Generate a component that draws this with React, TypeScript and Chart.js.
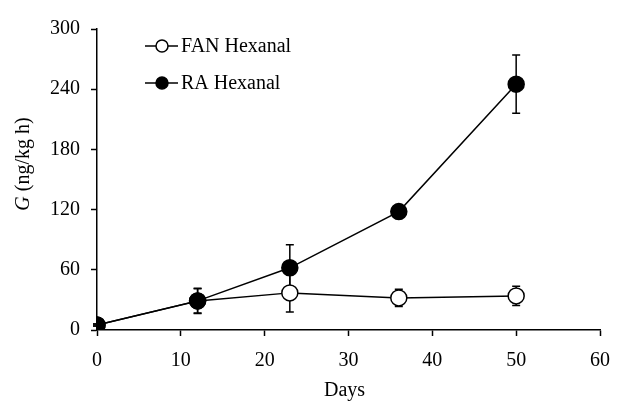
import React, { useEffect, useRef } from "react";
import { Chart, registerables } from "chart.js";

Chart.register(...registerables);

const days = [0, 12, 23, 36, 50];
const fanValues = [5, 29, 37, 32, 34];
const fanErrors = [1, 12, 19, 8.5, 9.5];
const raValues = [5, 29, 62, 118, 245];
const raErrors = [1, 12.5, 23, 3, 29];
const seriesNames = ["FAN Hexanal", "RA Hexanal"];
const xTicks = [0, 10, 20, 30, 40, 50, 60];
const yTicks = [0, 60, 120, 180, 240, 300];

const FONT = "'Liberation Serif', 'Times New Roman', serif";

const errorBarPlugin = {
  id: "errorBars",
  beforeDatasetsDraw(chart: any) {
    const ctx = chart.ctx;
    const xs = chart.scales.x;
    const ys = chart.scales.y;
    const sets = [
      { v: fanValues, e: fanErrors },
      { v: raValues, e: raErrors },
    ];
    ctx.save();
    ctx.strokeStyle = "#000";
    ctx.lineWidth = 1.5;
    sets.forEach((s) => {
      days.forEach((d, i) => {
        const px = xs.getPixelForValue(d);
        const top = ys.getPixelForValue(s.v[i] + s.e[i]);
        const bot = ys.getPixelForValue(s.v[i] - s.e[i]);
        ctx.beginPath();
        ctx.moveTo(px, top);
        ctx.lineTo(px, bot);
        ctx.moveTo(px - 4, top);
        ctx.lineTo(px + 4, top);
        ctx.moveTo(px - 4, bot);
        ctx.lineTo(px + 4, bot);
        ctx.stroke();
      });
    });
    ctx.restore();
  },
};

const decorPlugin = {
  id: "decor",
  afterDraw(chart: any) {
    const ctx = chart.ctx;
    const area = chart.chartArea;
    ctx.save();
    // legend
    const fills = ["#fff", "#000"];
    seriesNames.forEach((name, i) => {
      const y = area.top + 17 + i * 37;
      const x0 = area.left + 48;
      ctx.strokeStyle = "#000";
      ctx.lineWidth = 1.5;
      ctx.beginPath();
      ctx.moveTo(x0, y);
      ctx.lineTo(x0 + 33, y);
      ctx.stroke();
      ctx.beginPath();
      ctx.arc(x0 + 17, y, 6, 0, Math.PI * 2);
      ctx.fillStyle = fills[i];
      ctx.fill();
      ctx.stroke();
      ctx.fillStyle = "#000";
      ctx.font = "20px " + FONT;
      ctx.textBaseline = "middle";
      ctx.textAlign = "left";
      ctx.fillText(name, x0 + 36, y + 1);
    });
    // x title
    ctx.font = "20px " + FONT;
    ctx.textAlign = "center";
    ctx.textBaseline = "middle";
    ctx.fillText("Days", (area.left + area.right) / 2 - 4, area.bottom + 61);
    // y title
    ctx.translate(24, 164);
    ctx.rotate(-Math.PI / 2);
    ctx.font = "italic 20px " + FONT;
    const wG = ctx.measureText("G").width;
    ctx.font = "20px " + FONT;
    const rest = " (ng/kg h)";
    const wR = ctx.measureText(rest).width;
    const start = -(wG + wR) / 2;
    ctx.textAlign = "left";
    ctx.font = "italic 20px " + FONT;
    ctx.fillText("G", start, 0);
    ctx.font = "20px " + FONT;
    ctx.fillText(rest, start + wG, 0);
    ctx.restore();
  },
};

export default function App() {
  const ref = useRef<HTMLCanvasElement>(null);
  useEffect(() => {
    if (!ref.current) return;
    const chart = new Chart(ref.current, {
      type: "line",
      data: {
        datasets: [
          {
            label: seriesNames[0],
            data: days.map((d, i) => ({ x: d, y: fanValues[i] })),
            borderColor: "#000",
            borderWidth: 1.5,
            backgroundColor: "#fff",
            pointBackgroundColor: "#fff",
            pointBorderColor: "#000",
            pointBorderWidth: 1.5,
            pointRadius: 8,
            order: 2,
          },
          {
            label: seriesNames[1],
            data: days.map((d, i) => ({ x: d, y: raValues[i] })),
            borderColor: "#000",
            borderWidth: 1.5,
            backgroundColor: "#000",
            pointBackgroundColor: "#000",
            pointBorderColor: "#000",
            pointBorderWidth: 1.5,
            pointRadius: 8,
            order: 1,
          },
        ],
      },
      options: {
        animation: false,
        responsive: false,
        maintainAspectRatio: false,
        layout: { padding: { top: 29, right: 20, left: 0, bottom: 0 } },
        plugins: { legend: { display: false }, tooltip: { enabled: false } },
        scales: {
          x: {
            type: "linear",
            min: 0,
            max: 60,
            afterFit: (s: any) => {
              s.height = 72;
            },
            afterBuildTicks: (s: any) => {
              s.ticks = xTicks.map((v) => ({ value: v }));
            },
            grid: {
              drawOnChartArea: false,
              tickLength: 6,
              tickColor: "#000",
              tickWidth: 1.5,
            },
            border: { color: "#000", width: 1.5 },
            ticks: {
              color: "#000",
              padding: 13,
              font: { family: FONT, size: 20 },
              maxRotation: 0,
            },
          },
          y: {
            type: "linear",
            min: 0,
            max: 300,
            afterFit: (s: any) => {
              s.width = 97;
            },
            afterBuildTicks: (s: any) => {
              s.ticks = yTicks.map((v) => ({ value: v }));
            },
            grid: {
              drawOnChartArea: false,
              tickLength: 6,
              tickColor: "#000",
              tickWidth: 1.5,
            },
            border: { color: "#000", width: 1.5 },
            ticks: {
              color: "#000",
              padding: 11,
              font: { family: FONT, size: 20 },
            },
          },
        },
      },
      plugins: [errorBarPlugin, decorPlugin],
    } as any);
    return () => chart.destroy();
  }, []);
  return (
    <div style={{ position: "fixed", left: 0, top: 0, width: 623, height: 402, background: "#fff" }}>
      <canvas ref={ref} width={623} height={402} style={{ width: 623, height: 402, display: "block" }} />
    </div>
  );
}
